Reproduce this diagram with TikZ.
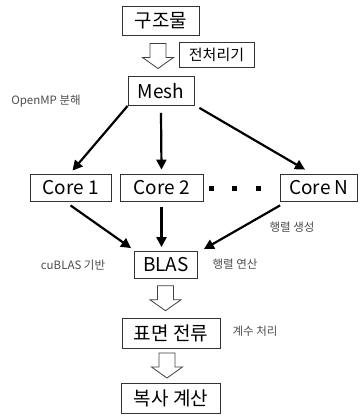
\documentclass[tikz,border=0pt]{standalone}
\usepackage{fontspec}
\setmainfont{Noto Sans CJK KR}
\usetikzlibrary{arrows.meta,calc}

\begin{document}
\begin{tikzpicture}[x=1pt, y=-1pt,
        box/.style={draw=black!80, line width=0.8pt, fill=white, inner sep=0pt, font=\fontsize{19}{19}\selectfont},
        note/.style={font=\fontsize{11.5}{11.5}\selectfont, text=black!70},
        fork/.style={line width=2.2pt, -{Triangle[length=10pt, width=10pt]}},
        hollow/.pic={\draw[black!75, line width=0.8pt, fill=white, line join=miter]
            (-8,-12.5) -- (8,-12.5) -- (8,1.5) -- (15.5,1.5) -- (0,12.5) -- (-15.5,1.5) -- (-8,1.5) -- cycle;}]

        \useasboundingbox (0,0) rectangle (361,420);

        % pre-processing
        \node[box, minimum width=77pt, minimum height=29pt] (gujo) at (161,21) {구조물};
        \node[box, minimum width=75pt, minimum height=25pt, font=\fontsize{15}{15}\selectfont] (prep) at (216.5,54.5) {전처리기};
        \node[box, minimum width=66pt, minimum height=29pt] (mesh) at (161,91) {Mesh};
        \pic[xshift=-3pt] at ($(gujo.south)!0.5!(mesh.north)$) {hollow};

        % parallel part
        \node[box, minimum width=81pt, minimum height=27pt] (core1) at (70.5,187.5) {Core 1};
        \node[box, minimum width=83pt, minimum height=27pt] (core2) at (161.5,187.5) {Core 2};
        \node[box, minimum width=77pt, minimum height=27pt] (coren) at (319,187.5) {Core N};
        \foreach \x in {211,234.5,258}
                \fill[black] (\x-2.5,185.5) rectangle (\x+2.5,190.5);

        \node[note] (openmp) at (46,101) {OpenMP 분해};
        \draw[fork] (mesh.south west) -- ([xshift=2pt, yshift=3pt]core1.north);
        \draw[fork] ([yshift=-7pt]mesh.south) -- ([yshift=4pt]core2.north);
        \draw[fork] ([xshift=5pt, yshift=-2pt]mesh.south east) -- ([xshift=-14pt, yshift=4pt]coren.north);

        % matrix
        \node[box, minimum width=63pt, minimum height=27pt] (blas) at (166,265) {BLAS};
        \node[note] (gen) at (292,227) {행렬 생성};
        \node[note] (cublas) at (73,265) {cuBLAS 기반};
        \node[note] (oper) at (235,264) {행렬 연산};
        \draw[fork] ([yshift=-4pt]core1.south) -- ([xshift=-3pt, yshift=3pt]blas.north west);
        \draw[fork] ([yshift=-6pt]core2.south) -- ([yshift=4pt]core2.south |- blas.north);
        \draw[fork] ([yshift=-4pt]coren.south west) -- ([xshift=6pt, yshift=2pt]blas.north east);

        % post-processing
        \node[box, minimum width=98pt, minimum height=30pt] (surf) at (171,333) {표면 전류};
        \node[note] (coef) at (255,331) {계수 처리};
        \node[box, minimum width=99pt, minimum height=30pt] (rad) at (171,398) {복사 계산};
        \pic[xshift=-3pt] at ($(blas.south)!0.5!(surf.north)$) {hollow};
        \pic[xshift=-4pt] at ($(surf.south)!0.5!(rad.north)$) {hollow};
\end{tikzpicture}
\end{document}
